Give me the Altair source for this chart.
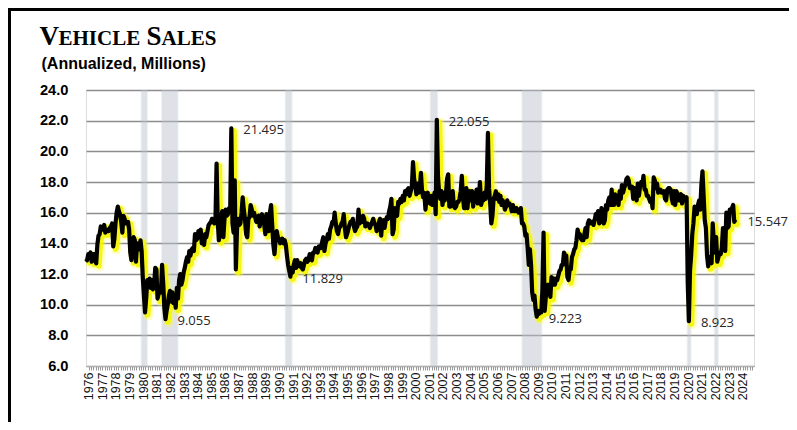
import altair as alt
import pandas as pd

# ---------------- data (monthly, annualized millions) ----------------
s1976 = [13.0, 12.9, 13.3, 13.2, 13.4, 12.8, 13.1, 13.3, 12.9, 12.7, 13.9, 14.5]
s1977 = [14.6, 15.1, 15.0, 14.9, 15.2, 14.7, 14.9, 14.8, 14.8, 15.0, 15.1, 15.3]
s1978 = [13.8, 14.3, 15.3, 16.0, 16.4, 16.1, 15.9, 15.4, 14.7, 15.8, 15.6, 15.3]
s1979 = [15.3, 15.4, 14.9, 13.4, 12.9, 13.8, 14.4, 14.2, 12.8, 14.0, 13.9, 13.6]
s1980 = [14.2, 13.5, 11.8, 10.6, 9.5, 10.4, 11.6, 11.4, 11.7, 11.1, 11.6, 11.0]
s1981 = [11.3, 12.4, 12.3, 10.4, 10.7, 10.9, 10.8, 12.6, 11.4, 9.8, 9.055, 9.6]
s1982 = [10.0, 10.6, 10.9, 10.2, 10.8, 10.1, 10.6, 9.8, 11.1, 10.4, 11.6, 12.0]
s1983 = [11.3, 11.6, 12.1, 12.4, 12.8, 13.1, 12.8, 13.5, 13.2, 13.6, 13.7, 13.5]
s1984 = [14.6, 14.2, 14.3, 14.8, 14.6, 14.9, 14.0, 14.5, 13.9, 14.6, 14.4, 14.8]
s1985 = [15.2, 15.3, 15.4, 15.6, 15.5, 15.3, 15.4, 19.2, 15.5, 14.2, 14.6, 15.8]
s1986 = [16.1, 14.4, 15.6, 16.2, 15.8, 15.9, 16.3, 16.1, 21.495, 15.3, 14.7, 18.1]
s1987 = [12.3, 14.9, 15.6, 15.2, 15.3, 16.0, 17.0, 16.2, 15.6, 14.6, 14.4, 15.6]
s1988 = [15.7, 16.5, 16.2, 15.8, 16.0, 15.7, 15.4, 15.7, 15.8, 15.1, 15.6, 15.9]
s1989 = [15.6, 15.2, 14.6, 15.9, 15.4, 14.8, 16.0, 16.5, 15.2, 13.9, 13.3, 14.2]
s1990 = [14.8, 14.4, 14.3, 14.0, 14.1, 14.3, 14.0, 14.2, 13.9, 13.2, 12.6, 12.2]
s1991 = [11.829, 12.4, 12.1, 12.6, 12.9, 12.4, 12.9, 12.6, 12.5, 12.7, 12.4, 12.3]
s1992 = [12.6, 12.9, 13.0, 12.8, 12.9, 13.3, 13.0, 12.9, 13.4, 13.4, 13.7, 13.6]
s1993 = [13.4, 13.8, 13.8, 13.7, 14.1, 14.4, 13.5, 14.0, 14.2, 14.6, 14.3, 14.9]
s1994 = [15.1, 15.4, 15.3, 16.0, 15.3, 14.8, 14.6, 15.0, 15.1, 15.3, 15.4, 15.9]
s1995 = [15.0, 14.4, 14.6, 14.9, 15.2, 15.4, 15.3, 15.6, 15.1, 14.8, 15.0, 15.1]
s1996 = [16.2, 15.3, 15.5, 15.4, 15.8, 15.6, 15.1, 15.2, 15.3, 15.2, 15.0, 15.2]
s1997 = [15.4, 15.6, 15.3, 15.2, 14.8, 15.0, 15.4, 15.6, 14.5, 15.4, 15.5, 15.0]
s1998 = [15.5, 15.7, 15.6, 16.1, 16.4, 16.9, 14.6, 14.9, 16.3, 16.0, 15.8, 16.7]
s1999 = [16.6, 16.9, 16.7, 17.1, 16.8, 17.4, 17.2, 17.5, 17.6, 17.1, 17.4, 17.7]
s2000 = [19.3, 18.2, 17.8, 17.2, 17.9, 17.3, 17.6, 18.6, 17.4, 17.0, 17.3, 16.2]
s2001 = [17.0, 17.3, 16.7, 16.6, 17.1, 16.5, 16.8, 17.3, 15.9, 22.055, 18.4, 17.3]
s2002 = [16.9, 17.4, 16.5, 17.3, 16.8, 17.2, 18.2, 18.5, 16.4, 16.4, 16.5, 17.4]
s2003 = [16.4, 16.3, 16.4, 16.7, 16.7, 16.9, 17.4, 18.4, 17.0, 16.3, 16.3, 17.6]
s2004 = [16.3, 17.2, 17.4, 16.8, 17.4, 16.4, 17.2, 17.0, 17.5, 16.6, 17.1, 18.0]
s2005 = [16.5, 16.8, 16.8, 17.3, 16.9, 17.8, 21.2, 17.6, 16.6, 15.3, 15.8, 16.9]
s2006 = [17.1, 17.4, 16.9, 17.2, 16.7, 17.1, 16.5, 16.8, 16.6, 16.2, 16.4, 16.8]
s2007 = [16.5, 16.6, 16.4, 16.1, 16.5, 16.1, 16.1, 16.3, 16.2, 16.0, 16.1, 16.3]
s2008 = [15.3, 15.3, 15.1, 14.5, 14.6, 13.7, 12.6, 13.6, 12.6, 10.8, 10.3, 10.6]
s2009 = [9.7, 9.223, 9.6, 9.4, 9.5, 9.5, 11.0, 14.7, 9.6, 10.5, 11.0, 11.3]
s2010 = [11.0, 10.5, 11.8, 11.3, 11.7, 11.3, 11.7, 11.6, 11.9, 12.2, 12.3, 12.6]
s2011 = [12.6, 13.4, 13.2, 13.2, 11.8, 11.6, 12.3, 12.3, 13.1, 13.3, 13.6, 13.7]
s2012 = [14.2, 14.9, 14.5, 14.6, 14.3, 14.2, 14.2, 14.6, 15.0, 14.4, 15.3, 15.5]
s2013 = [15.3, 15.4, 15.4, 15.2, 15.5, 15.9, 15.8, 16.1, 15.3, 15.4, 16.3, 15.6]
s2014 = [15.3, 15.5, 16.5, 16.2, 16.8, 17.0, 16.5, 17.5, 16.5, 16.5, 17.2, 16.9]
s2015 = [16.9, 16.5, 17.4, 16.9, 17.8, 17.3, 17.6, 17.8, 18.2, 18.3, 18.1, 17.6]
s2016 = [17.6, 17.7, 16.9, 17.6, 17.4, 16.8, 17.9, 17.1, 17.7, 18.0, 17.8, 18.4]
s2017 = [17.5, 17.5, 17.1, 17.1, 16.9, 16.7, 16.9, 16.3, 18.3, 18.1, 17.6, 17.9]
s2018 = [17.3, 17.4, 17.5, 17.3, 17.3, 17.4, 16.9, 16.8, 17.5, 17.6, 17.6, 17.5]
s2019 = [16.9, 16.6, 17.4, 16.5, 17.4, 17.2, 16.8, 17.0, 17.2, 16.6, 17.1, 16.8]
s2020 = [16.9, 17.0, 11.4, 8.923, 12.2, 13.2, 14.6, 15.3, 16.4, 16.3, 15.9, 16.5]
s2021 = [16.8, 16.2, 17.8, 18.7, 17.1, 15.5, 15.0, 13.2, 12.5, 13.1, 13.1, 12.7]
s2022 = [15.3, 14.1, 13.4, 14.4, 12.8, 13.1, 13.4, 13.3, 13.7, 15.0, 14.2, 13.5]
s2023 = [16.0, 15.0, 15.1, 16.2, 16.1, 16.3, 16.5, 15.4, 15.547]

SALES = (s1976 + s1977 + s1978 + s1979 + s1980 + s1981 + s1982 + s1983 + s1984 +
         s1985 + s1986 + s1987 + s1988 + s1989 + s1990 + s1991 + s1992 + s1993 +
         s1994 + s1995 + s1996 + s1997 + s1998 + s1999 + s2000 + s2001 + s2002 +
         s2003 + s2004 + s2005 + s2006 + s2007 + s2008 + s2009 + s2010 + s2011 +
         s2012 + s2013 + s2014 + s2015 + s2016 + s2017 + s2018 + s2019 + s2020 +
         s2021 + s2022 + s2023)
START_YEAR = 1976

# recession bands (decimal years)
rec_start = [1980.0, 1981.5, 1990.58, 2001.22, 2007.95, 2020.08, 2022.08]
rec_end = [1980.55, 1982.8, 1991.17, 2001.85, 2009.5, 2020.45, 2022.45]

# labelled points (year, month)
ann_year = [1981, 1986, 1991, 2001, 2009, 2020, 2023]
ann_month = [11, 9, 1, 10, 2, 4, 9]

# y axis ticks
y_ticks = [6, 8, 10, 12, 14, 16, 18, 20, 22, 24]

# ---------------- frames ----------------
df = pd.DataFrame({
    "t": [START_YEAR + i / 12 for i in range(len(SALES))],
    "v": SALES,
})
ann_v = [SALES[(y - START_YEAR) * 12 + (m - 1)] for y, m in zip(ann_year, ann_month)]
ann_df = pd.DataFrame({
    "t": [y + (m - 1) / 12 for y, m in zip(ann_year, ann_month)],
    "v": ann_v,
    "label": [f"{v:.3f}" for v in ann_v],
})
rec_df = pd.DataFrame({"s": rec_start, "e": rec_end})

W, H = 668, 276
XDOM = [1976.0, 2025.03]
tick_vals = [round(1976.2 + k / 6, 4) for k in range(293)]

x_scale = alt.Scale(domain=XDOM, nice=False, zero=False)
y_scale = alt.Scale(domain=[6, 24], nice=False, zero=False)

x_enc = alt.X(
    "t:Q", scale=x_scale,
    axis=alt.Axis(
        values=tick_vals, tickCount=1000, title=None, grid=False,
        labelExpr="(round((datum.value - 1976.2) * 6) % 6 == 0) ? format(floor(datum.value), 'd') : ''",
        labelAngle=270, labelFont="Liberation Sans", labelFontSize=12.5, labelColor="#111111",
        labelPadding=2, labelOverlap=False, labelFlush=False,
        tickSize=4, tickColor="#9a9a9a", tickWidth=1,
        domainColor="#b0b0b0", domainWidth=1,
    ),
)
y_enc = alt.Y(
    "v:Q", scale=y_scale,
    axis=alt.Axis(
        values=y_ticks, tickCount=100, format=".1f", title=None, grid=True,
        gridColor="#8c8c8c", gridWidth=1.4, domain=False, ticks=False,
        labelFont="Liberation Sans", labelFontWeight="bold", labelFontSize=14.67,
        labelColor="#000000", labelPadding=18, labelOverlap=False, labelFlush=False,
    ),
)

base = alt.Chart(df)

rec_soft = alt.Chart(rec_df).mark_rect(color="#b9c0ca", opacity=0.22).encode(
    x=alt.X("s:Q", scale=x_scale), x2="e:Q",
    y=alt.value(0), y2=alt.value(H),
)
rec_core = alt.Chart(rec_df).transform_calculate(
    s2="datum.s + 0.08", e2="datum.e - 0.08"
).mark_rect(color="#bcc3cd", opacity=0.35).encode(
    x=alt.X("s2:Q", scale=x_scale), x2="e2:Q",
    y=alt.value(0), y2=alt.value(H),
)

glow_wide = base.mark_line(color="#ffff33", strokeWidth=10, opacity=0.3,
                           xOffset=3, yOffset=3, strokeJoin="round").encode(x=x_enc, y=y_enc)
glow = base.mark_line(color="#f5f500", strokeWidth=6, opacity=0.9,
                      xOffset=2.5, yOffset=2.5, strokeJoin="round").encode(x=x_enc, y=y_enc)
line = base.mark_line(color="#000000", strokeWidth=4.2, strokeJoin="round").encode(x=x_enc, y=y_enc)

labels = alt.Chart(ann_df).mark_text(
    align="left", baseline="middle", dx=12, dy=2,
    font="Open Sans", fontSize=13, color="#262626",
).encode(x=alt.X("t:Q", scale=x_scale), y=alt.Y("v:Q", scale=y_scale), text="label:N")

# title pieces (small caps effect)
one = pd.DataFrame({"k": [0]})
def ttext(txt, x, y, size, font="Liberation Serif", weight="bold"):
    return alt.Chart(one).mark_text(
        text=txt, align="left", baseline="alphabetic", font=font,
        fontWeight=weight, fontSize=size, color="#000000",
    ).encode(x=alt.value(x), y=alt.value(y))

t1 = ttext("V", -46.5, -45, 27)
t2 = ttext("EHICLE", -27.5, -45, 21)
t3 = ttext("S", 60.5, -45, 27)
t4 = ttext("ALES", 75.5, -45, 21)
sub = ttext("(Annualized, Millions)", -44.5, -21, 16, font="Liberation Sans")

frame_left = alt.Chart(one).mark_rule(color="#000000", strokeWidth=3).encode(
    x=alt.value(-76.5), y=alt.value(-82), y2=alt.value(H + 56))
frame_top = alt.Chart(one).mark_rule(color="#000000", strokeWidth=3).encode(
    x=alt.value(-78), x2=alt.value(W + 35), y=alt.value(-80.5))

chart = alt.layer(
    rec_soft, rec_core, glow_wide, glow, line, labels,
    t1, t2, t3, t4, sub, frame_left, frame_top,
).properties(
    width=W, height=H,
    autosize=alt.AutoSizeParams(type="none"),
    padding={"left": 78, "top": 82, "right": 35, "bottom": 56},
).configure_view(
    fill="#dbe5f1", stroke=None,
).configure(background="#ffffff")

chart.save("out.html", embed_options={"renderer": "svg", "actions": False})
